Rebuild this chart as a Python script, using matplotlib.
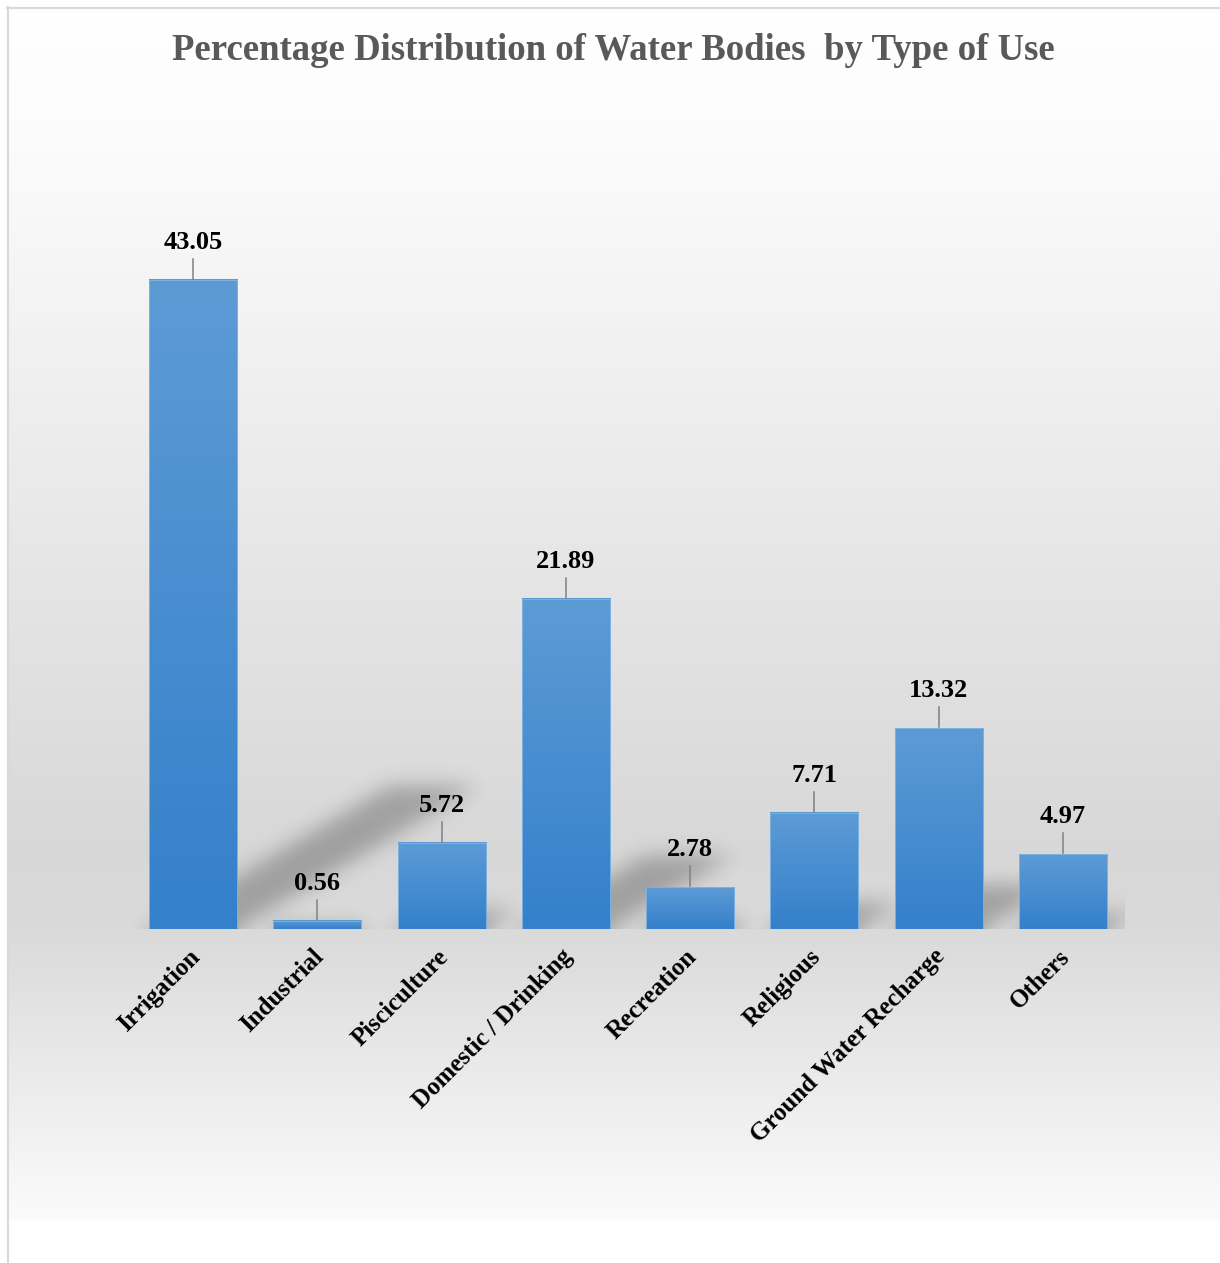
import matplotlib
matplotlib.use("Agg")
import matplotlib.pyplot as plt
import numpy as np
from matplotlib.lines import Line2D

# data
categories = ["Irrigation", "Industrial", "Pisciculture", "Domestic / Drinking",
              "Recreation", "Religious", "Ground Water Recharge", "Others"]
values = [43.05, 0.56, 5.72, 21.89, 2.78, 7.71, 13.32, 4.97]
title = "Percentage Distribution of Water Bodies  by Type of Use"

FONT = ["Liberation Serif", "DejaVu Serif"]
FW, FH = 1220, 1263

fig = plt.figure(figsize=(FW / 100, FH / 100), dpi=100)

# background: chart area gradient + border
bg = fig.add_axes([0, 0, 1, 1])
bg.set_xlim(0, FW)
bg.set_ylim(FH, 0)
bg.axis("off")
ys = np.array([9, 150, 500, 850, 930, 1050, 1221])
lv = np.array([1.0, 0.985, 0.915, 0.845, 0.855, 0.91, 0.985])
rows = np.interp(np.arange(9, 1221), ys, lv)
grad = np.repeat(rows[:, None], 3, axis=1)[:, None, :]
bg.imshow(grad, extent=[9, FW, 1221, 9], aspect="auto", interpolation="bilinear")
bg.add_line(Line2D([7.5, 7.5], [7, FH], color="#d9d9d9", lw=1.5))
bg.add_line(Line2D([7, FW], [7.5, 7.5], color="#d9d9d9", lw=1.5))
bg.set_xlim(0, FW)
bg.set_ylim(FH, 0)

# main plot area
left, right, base, top = 131, 1125, 929, 140
ppu = 15.08  # pixels per percent
ymax = (base - top) / ppu
ax = fig.add_axes([left / FW, (FH - base) / FH, (right - left) / FW, (base - top) / FH])
ax.patch.set_alpha(0)
x = np.arange(len(values))
bw = 0.71

# blurred perspective shadows
W_px, H_px = right - left, base - top
pxx = W_px / len(values)
vv, uu = np.mgrid[0:H_px, 0:W_px] + 0.5
mask = np.zeros((H_px, W_px))
for i, val in enumerate(values):
    cx = (i + 0.5) * pxx
    hw = bw / 2 * pxx
    h = val * ppu
    s = uu - 1.68 * vv
    mask[(vv <= 0.22 * h) & (s >= cx - hw) & (s <= cx + hw)] = 1.0
sig = 10
r = 3 * sig
k = np.exp(-0.5 * (np.arange(-r, r + 1) / sig) ** 2)
k /= k.sum()
pad = np.pad(mask, r, mode="edge")
pad = np.apply_along_axis(lambda a: np.convolve(a, k, mode="same"), 0, pad)
pad = np.apply_along_axis(lambda a: np.convolve(a, k, mode="same"), 1, pad)
blur = pad[r:-r, r:-r]
shadow = np.zeros((H_px, W_px, 4))
shadow[..., 3] = 0.26 * blur
ax.imshow(shadow, extent=[-0.5, len(values) - 0.5, 0, ymax], origin="lower",
          aspect="auto", interpolation="bilinear", zorder=1)

# gradient bars
c_top = np.array([0x5d, 0x9b, 0xd5]) / 255
c_bot = np.array([0x34, 0x80, 0xcb]) / 255
t = np.linspace(0, 1, 128)[:, None]
bar_grad = (c_top * (1 - t) + c_bot * t)[:, None, :]
for i, val in enumerate(values):
    ax.imshow(bar_grad, extent=[i - bw / 2, i + bw / 2, 0, val], aspect="auto",
              interpolation="bilinear", zorder=2)
ax.bar(x, values, width=bw, color="none", edgecolor="#7db2e2", lw=0.7, zorder=3)

# leader lines and value labels
u = 1 / ppu
for i, val in enumerate(values):
    ax.plot([i, i], [val + 1 * u, val + 21 * u], color="#808080", lw=1.1, zorder=3)
    ax.annotate(f"{val:.2f}", (i, val), xytext=(0, 31 * 0.72), textcoords="offset points",
                ha="center", va="baseline", fontsize=19, fontweight="bold",
                family=FONT, color="#000000")

# category labels
for i, lab in enumerate(categories):
    ax.annotate(lab, (i, 0), xytext=(3 * 0.72, -24 * 0.72), textcoords="offset points",
                ha="right", va="center", rotation=45, rotation_mode="anchor",
                fontsize=18, fontweight="bold", family=FONT, color="#000000")

ax.set_xlim(-0.5, len(values) - 0.5)
ax.set_ylim(0, ymax)
ax.axis("off")

fig.text(613 / FW, 1 - 50 / FH, title, ha="center", va="center", fontsize=26.5,
         fontweight="bold", color="#595959", family=FONT)

fig.savefig("out.png", dpi=100)
